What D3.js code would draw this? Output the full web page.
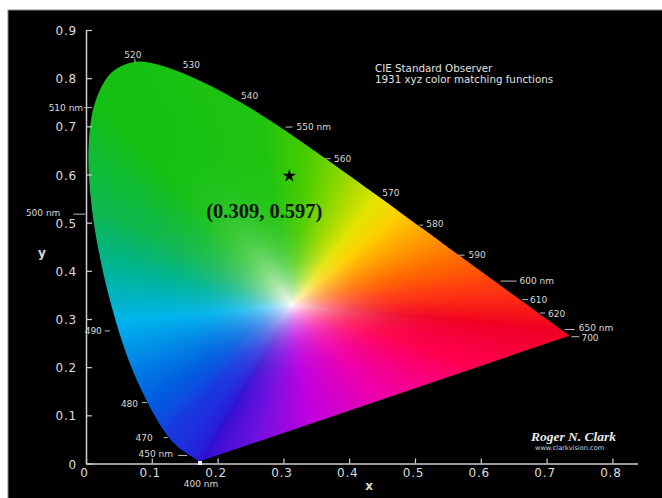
<!DOCTYPE html>
<html>
<head>
<meta charset="utf-8">
<script src="https://cdn.jsdelivr.net/npm/d3@7/dist/d3.min.js"></script>
<style>
  html, body { margin: 0; padding: 0; background: #fff; }
  svg { display: block; }
</style>
</head>
<body>
<svg id="chart" width="662" height="498"></svg>
<script>
// ---------------- DATA ----------------
const wavelengths = [380,385,390,395,400,405,410,415,420,425,430,435,440,445,450,455,460,465,470,475,480,485,490,495,500,505,510,515,520,525,530,535,540,545,550,555,560,565,570,575,580,585,590,595,600,605,610,615,620,625,630,635,640,645,650,655,660,665,670,680,690,700];
const locusX = [0.1741,0.1740,0.1738,0.1736,0.1733,0.1730,0.1726,0.1721,0.1714,0.1703,0.1689,0.1669,0.1644,0.1611,0.1566,0.1510,0.1440,0.1355,0.1241,0.1096,0.0913,0.0687,0.0454,0.0235,0.0082,0.0039,0.0139,0.0389,0.0743,0.1142,0.1547,0.1929,0.2296,0.2658,0.3016,0.3373,0.3731,0.4087,0.4441,0.4788,0.5125,0.5448,0.5752,0.6029,0.6270,0.6482,0.6658,0.6801,0.6915,0.7006,0.7079,0.7140,0.7190,0.7230,0.7260,0.7283,0.7300,0.7311,0.7320,0.7334,0.7344,0.7347];
const locusY = [0.0050,0.0050,0.0049,0.0049,0.0048,0.0048,0.0048,0.0048,0.0051,0.0058,0.0069,0.0086,0.0109,0.0138,0.0177,0.0227,0.0297,0.0399,0.0578,0.0868,0.1327,0.2007,0.2950,0.4127,0.5384,0.6548,0.7502,0.8120,0.8338,0.8262,0.8059,0.7816,0.7543,0.7243,0.6923,0.6589,0.6245,0.5896,0.5547,0.5202,0.4866,0.4544,0.4242,0.3965,0.3725,0.3514,0.3340,0.3197,0.3083,0.2993,0.2920,0.2859,0.2809,0.2770,0.2740,0.2717,0.2700,0.2689,0.2680,0.2666,0.2656,0.2653];

const whitePoint = [0.3127, 0.3290];

const xTicks = [0,0.1,0.2,0.3,0.4,0.5,0.6,0.7,0.8];
const yTicks = [0,0.1,0.2,0.3,0.4,0.5,0.6,0.7,0.8,0.9];

const labelWavelengths = [520,530,540,550,560,570,580,590,600,610,620,650,700,510,500,490,480,470,450,400];
const labelTexts = ["520","530","540","550 nm","560","570","580","590","600 nm","610","620","650 nm","700","510 nm","500 nm","490","480","470","450 nm","400 nm"];

const pointX = [0.309];
const pointY = [0.597];
const pointLabels = ["(0.309, 0.597)"];

const titleLines = ["CIE Standard Observer", "1931 xyz color matching functions"];
const creditLines = ["Roger N. Clark", "www.clarkvision.com"];
const axisTitles = ["x", "y"];

// ---------------- DRAWING ----------------
const svg = d3.select("#chart");

svg.append("rect").attr("x", 8).attr("y", 10).attr("width", 660).attr("height", 492)
  .attr("fill", "#000").attr("stroke", "#8a8a8a").attr("stroke-width", 1);

const x = d3.scaleLinear().domain([0, 0.8]).range([86, 612.4]);
const y = d3.scaleLinear().domain([0, 0.9]).range([463.5, 30]);

// ---- colour styling: spectral hues along the locus and the purple line ----
const spectralColor = d3.scaleLinear()
  .domain([380, 420, 450, 470, 480, 484, 487, 490, 495, 500, 505, 510, 545, 555, 563, 568, 572, 576, 582, 590, 600, 615, 640, 700])
  .range(["#3010d0", "#2a18d8", "#2424dc", "#1838e0", "#0060e0", "#0078e4", "#0096e8", "#00b4ec", "#00b494", "#10b850", "#10bc30", "#14c014", "#20c410", "#48cc00", "#90d800", "#d0e000", "#f8e800", "#ffc800", "#ff9800", "#ff6800", "#ff3c10", "#f81818", "#f00022", "#f00028"])
  .interpolate(d3.interpolateRgb).clamp(true);
const purpleColor = d3.scaleLinear()
  .domain([0, 0.25, 0.5, 0.7, 0.85, 1])
  .range(["#f00028", "#ff0050", "#f000a8", "#c000e0", "#7010e0", "#3010d0"])
  .interpolate(d3.interpolateRgb);

const locus = wavelengths.map((w, i) => ({w, x: locusX[i], y: locusY[i]}));

// boundary of the gamut (spectral locus + line of purples), as seen from the white point
const [wx, wy] = whitePoint;
const boundary = locus.map(d => ({x: d.x, y: d.y, c: d3.rgb(spectralColor(d.w))}));
const pEnd = locus[locus.length - 1], pStart = locus[0];
for (let s = 1; s < 60; s++) {
  const t = s / 60;
  boundary.push({x: pEnd.x + (pStart.x - pEnd.x) * t, y: pEnd.y + (pStart.y - pEnd.y) * t, c: d3.rgb(purpleColor(t))});
}
boundary.forEach(b => { b.a = Math.atan2(b.y - wy, b.x - wx); b.d = Math.hypot(b.x - wx, b.y - wy); });
boundary.sort((p, q) => p.a - q.a);
const first = boundary[0], last = boundary[boundary.length - 1];
boundary.unshift(Object.assign({}, last, {a: last.a - 2 * Math.PI}));
boundary.push(Object.assign({}, first, {a: first.a + 2 * Math.PI}));
const angles = boundary.map(b => b.a);
const bis = d3.bisector(a => a).right;

const x0 = Math.floor(x(0)), x1 = Math.ceil(x(0.75));
const y0 = Math.floor(y(0.85)), y1 = Math.ceil(y(0));
const cw = x1 - x0, ch = y1 - y0;
const canvas = document.createElement("canvas");
canvas.width = cw; canvas.height = ch;
const ctx = canvas.getContext("2d");
const img = ctx.createImageData(cw, ch);
for (let j = 0; j < ch; j++) {
  const cy = y.invert(y0 + j + 0.5);
  for (let i = 0; i < cw; i++) {
    const cx = x.invert(x0 + i + 0.5);
    const a = Math.atan2(cy - wy, cx - wx), d = Math.hypot(cx - wx, cy - wy);
    let k = bis(angles, a) - 1;
    k = Math.max(0, Math.min(boundary.length - 2, k));
    const p = boundary[k], q = boundary[k + 1];
    const f = (a - p.a) / (q.a - p.a || 1);
    const D = p.d + (q.d - p.d) * f;
    const r = p.c.r + (q.c.r - p.c.r) * f, g = p.c.g + (q.c.g - p.c.g) * f, b = p.c.b + (q.c.b - p.c.b) * f;
    const s = Math.min(1, d / D);
    const m = 1 - Math.pow(1 - s, 5);
    const o = (j * cw + i) * 4;
    img.data[o] = Math.round(255 * (1 - m) + r * m);
    img.data[o + 1] = Math.round(250 * (1 - m) + g * m);
    img.data[o + 2] = Math.round(255 * (1 - m) + b * m);
    img.data[o + 3] = 255;
  }
}
ctx.putImageData(img, 0, 0);

const locusLine = d3.line().x(d => x(d.x)).y(d => y(d.y)).curve(d3.curveCatmullRom);
svg.append("clipPath").attr("id", "locusClip")
  .append("path").attr("d", locusLine(locus) + "Z");

svg.append("image")
  .attr("x", x0).attr("y", y0).attr("width", cw).attr("height", ch)
  .attr("preserveAspectRatio", "none")
  .attr("href", canvas.toDataURL())
  .attr("clip-path", "url(#locusClip)");

// ---- axes ----
const fmt = d => d === 0 ? "0" : d3.format(".1f")(d);
const xAxisScale = d3.scaleLinear().domain([0, 0.838]).range([86, 86 + 0.838 * (612.4 - 86) / 0.8]);
const gx = svg.append("g").attr("transform", `translate(0,${y(0)})`)
  .call(d3.axisBottom(xAxisScale).tickValues(xTicks).tickFormat(fmt).tickSizeInner(-5).tickSizeOuter(0).tickPadding(5));
const gy = svg.append("g").attr("transform", `translate(${x(0)},0)`)
  .call(d3.axisLeft(y).tickValues(yTicks).tickFormat(fmt).tickSizeInner(-6).tickSizeOuter(0).tickPadding(9));
[gx, gy].forEach(g => {
  g.select(".domain").attr("stroke", "#d0d0d0").attr("stroke-width", 1.5);
  g.selectAll(".tick line").attr("stroke", "#d0d0d0").attr("stroke-width", 1.2);
  g.selectAll(".tick text").attr("fill", "#dcdcdc")
    .style("font-family", "'DejaVu Sans', sans-serif").style("font-size", "12px")
    .style("letter-spacing", "0.8px");
});
gy.selectAll(".tick text").attr("dy", "0.38em");
gx.selectAll(".tick text").attr("dx", -2);

svg.append("text").attr("x", 369).attr("y", 490).attr("text-anchor", "middle")
  .attr("fill", "#dcdcdc").style("font-family", "'DejaVu Sans', sans-serif")
  .style("font-size", "12px").style("font-weight", "bold").text(axisTitles[0]);
svg.append("text").attr("x", 42).attr("y", 257).attr("text-anchor", "middle")
  .attr("fill", "#dcdcdc").style("font-family", "'DejaVu Sans', sans-serif")
  .style("font-size", "12px").style("font-weight", "bold").text(axisTitles[1]);

// ---- wavelength labels ----
const labelStyle = {
  520: {dx: -2, dy: -4, anchor: "middle", tick: [0, -3, 0, 1]},
  530: {dx: -5, dy: -7, anchor: "start", tick: null},
  540: {dx: 4, dy: -1, anchor: "start", tick: null},
  550: {dx: 12, dy: -0.5, anchor: "start", tick: [1, -3, 8, -3]},
  560: {dx: 2.5, dy: -1, anchor: "start", tick: [-6, -4, -1, -4]},
  570: {dx: 4, dy: 0, anchor: "start", tick: null},
  580: {dx: 3, dy: -2, anchor: "start", tick: [-4, -4, 0, -4]},
  590: {dx: 4, dy: -1, anchor: "start", tick: [-6, -4, 0, -4]},
  600: {dx: 21, dy: 0, anchor: "start", tick: [2, -3, 18, -3]},
  610: {dx: 6, dy: 0, anchor: "start", tick: [-2, -3, 4, -3]},
  620: {dx: 7, dy: 2, anchor: "start", tick: [-1, -2, 4, -2]},
  650: {dx: 15, dy: -1, anchor: "start", tick: [1, -2, 11, -2]},
  700: {dx: 12, dy: 5.5, anchor: "start", tick: [2, 1, 10, 1]},
  510: {dx: -12, dy: 8.5, anchor: "end", tick: [-11, 5.5, -3, 5.5]},
  500: {dx: -31, dy: 12, anchor: "end", tick: [-18, 10, -6, 10]},
  490: {dx: -14, dy: 12.5, anchor: "end", tick: [-11, 9.5, -6, 9.5]},
  480: {dx: -8, dy: 7, anchor: "end", tick: [-4, 3, 1, 3]},
  470: {dx: -15, dy: 5, anchor: "end", tick: [-4, 2, 0, 2]},
  450: {dx: -16, dy: 2.5, anchor: "end", tick: [-11, 0.5, -2, 0.5]},
  400: {dx: 1, dy: 26, anchor: "middle", tick: null}
};
const labels = labelWavelengths.map((w, i) => {
  const k = wavelengths.indexOf(w);
  return {w, text: labelTexts[i], px: x(locusX[k]), py: y(locusY[k]), s: labelStyle[w]};
});
const lg = svg.append("g");
lg.selectAll("line").data(labels.filter(d => d.s.tick)).join("line")
  .attr("x1", d => d.px + d.s.tick[0]).attr("y1", d => d.py + d.s.tick[1])
  .attr("x2", d => d.px + d.s.tick[2]).attr("y2", d => d.py + d.s.tick[3])
  .attr("stroke", "#bdbdbd").attr("stroke-width", 1);
lg.selectAll("text").data(labels).join("text")
  .attr("x", d => d.px + d.s.dx).attr("y", d => d.py + d.s.dy)
  .attr("text-anchor", d => d.s.anchor)
  .attr("fill", "#d8d8d8")
  .style("font-family", "'DejaVu Sans', sans-serif").style("font-size", "9px")
  .text(d => d.text);

// 400 nm marker
const k400 = wavelengths.indexOf(400);
svg.append("rect").attr("x", x(locusX[k400]) - 2).attr("y", y(0) - 2.5)
  .attr("width", 4).attr("height", 4).attr("fill", "#f0f0ff");

// ---- title ----
svg.append("g").selectAll("text").data(titleLines).join("text")
  .attr("x", 375).attr("y", (d, i) => 72 + i * 11)
  .attr("fill", "#e0e0e0")
  .style("font-family", "'DejaVu Sans', sans-serif").style("font-size", "10.3px")
  .text(d => d);

// ---- credit ----
svg.append("text").attr("x", 531).attr("y", 441).attr("fill", "#e8e8e8")
  .attr("textLength", 85).attr("lengthAdjust", "spacingAndGlyphs")
  .style("font-family", "'Liberation Serif', serif").style("font-style", "italic")
  .style("font-weight", "bold").style("font-size", "12px").text(creditLines[0]);
svg.append("text").attr("x", 535).attr("y", 449.5).attr("fill", "#d8d8d8")
  .style("font-family", "'DejaVu Sans', sans-serif").style("font-size", "6.6px").text(creditLines[1]);

// ---- highlighted point ----
const pts = pointX.map((v, i) => ({x: v, y: pointY[i], label: pointLabels[i]}));
svg.append("g").selectAll("path").data(pts).join("path")
  .attr("transform", d => `translate(${x(d.x)},${y(d.y)})`)
  .attr("d", d3.symbol().type(d3.symbolStar).size(55))
  .attr("fill", "#050505");
svg.append("g").selectAll("text").data(pts).join("text")
  .attr("x", d => x(d.x) - 25).attr("y", d => y(d.y) + 42)
  .attr("text-anchor", "middle")
  .attr("fill", "#0c160c")
  .style("font-family", "'Liberation Serif', 'Times New Roman', serif")
  .style("font-weight", "bold").style("font-size", "20.5px")
  .text(d => d.label);
</script>
</body>
</html>
